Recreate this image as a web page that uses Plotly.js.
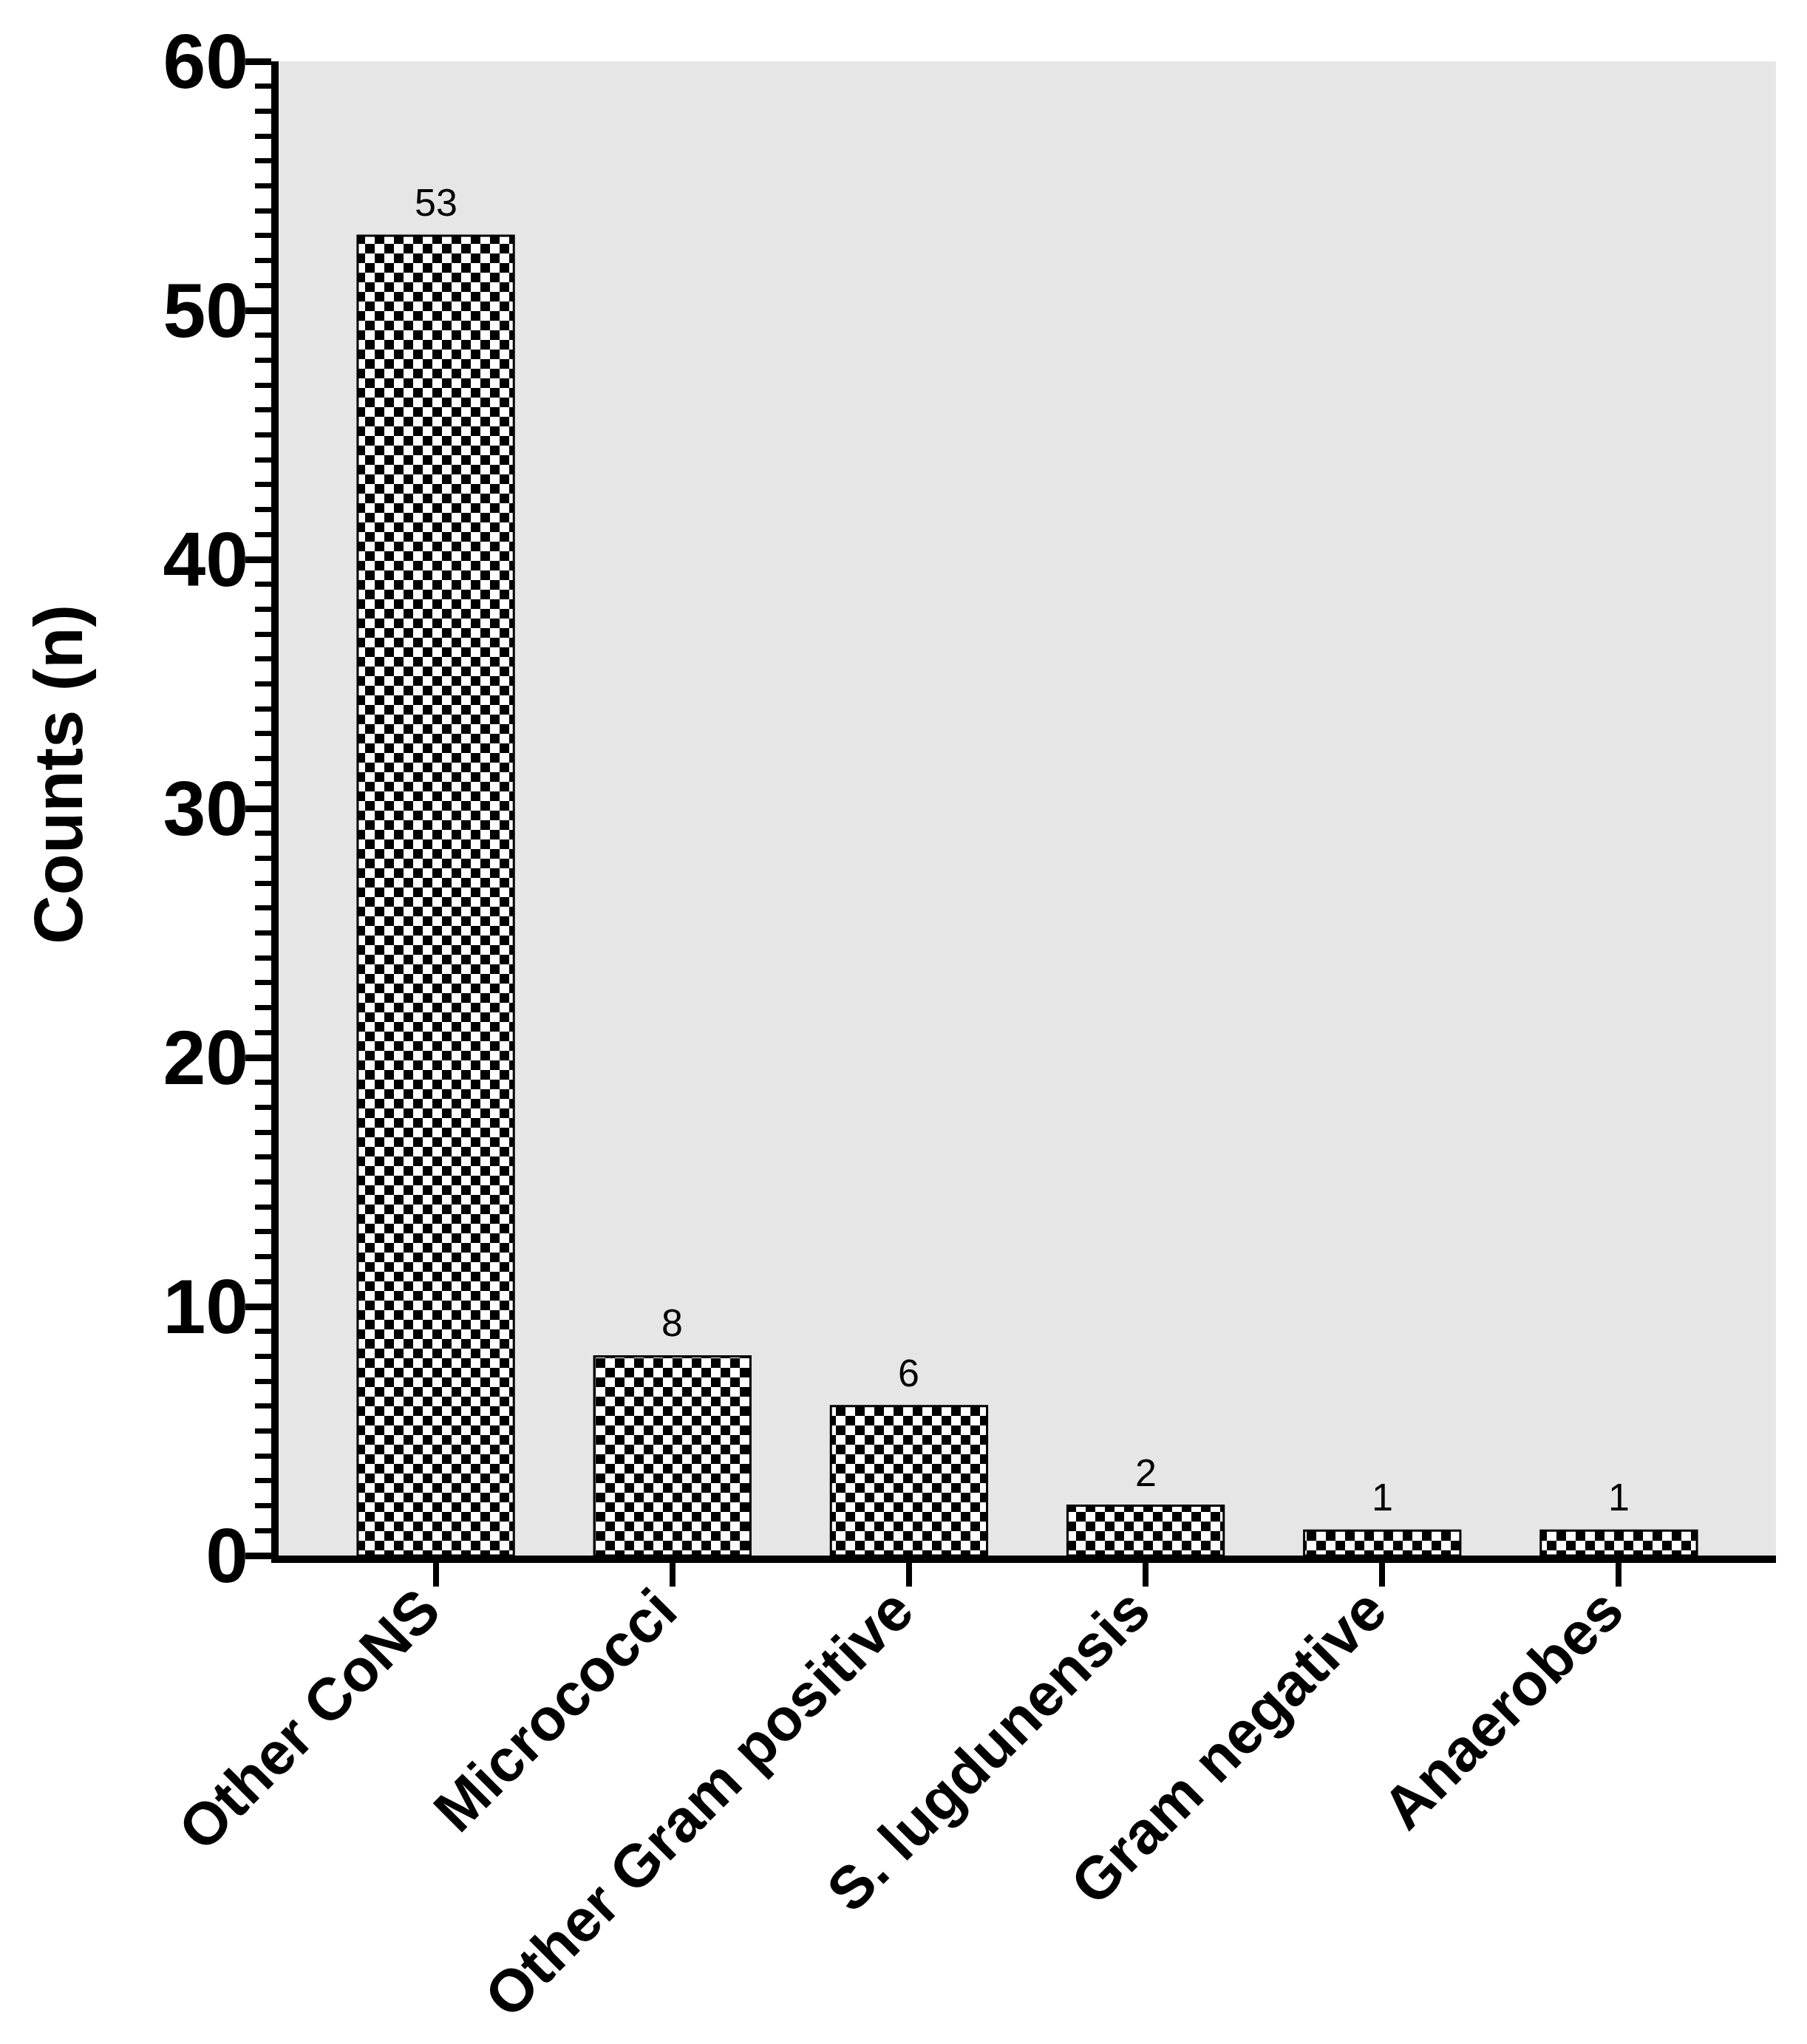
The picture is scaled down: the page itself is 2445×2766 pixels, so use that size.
<!DOCTYPE html>
<html>
<head>
<meta charset="utf-8">
<script src="https://cdn.plot.ly/plotly-3.0.1.min.js"></script>
<style>
  html, body { margin: 0; padding: 0; background: #fff; }
  #myDiv { width: 2445px; height: 2766px; }
</style>
</head>
<body>
<div id="myDiv"></div>
<script>
var graphDiv = 'myDiv'

// isolate groups and their counts
var categories = ['Other CoNS', 'Micrococci', 'Other Gram positive', 'S. lugdunensis', 'Gram negative', 'Anaerobes']
var counts = [53, 8, 6, 2, 1, 1]
var yTicks = [0, 10, 20, 30, 40, 50, 60]
var yTitle = 'Counts (n)'

var bars = {
  x: categories,
  y: counts,
  type: 'bar',
  width: 0.66,
  marker: {
    color: '#ffffff',
    line: { color: '#000000', width: 3 }
  },
  hoverinfo: 'x+y'
}

// value labels sit a little above each bar
var labels = categories.map(function (c, i) {
  return {
    x: c,
    y: counts[i],
    text: String(counts[i]),
    showarrow: false,
    yanchor: 'bottom',
    yshift: 14,
    font: { family: 'Liberation Sans, Arial, sans-serif', size: 52, color: '#000' }
  }
})

// y title as annotation so it can sit a bit above centre, like the original
labels.push({
  xref: 'paper',
  yref: 'paper',
  x: -0.147,
  y: 0.523,
  xanchor: 'center',
  yanchor: 'middle',
  textangle: -90,
  text: yTitle,
  showarrow: false,
  font: { family: 'Liberation Sans, Arial, sans-serif', size: 92, color: '#000', weight: 'bold' }
})

var layout = {
  width: 2445,
  height: 2766,
  margin: { l: 377, r: 42, t: 83, b: 661 },
  paper_bgcolor: '#ffffff',
  plot_bgcolor: '#e6e6e6',
  showlegend: false,
  font: { family: 'Liberation Sans, Arial, sans-serif', color: '#000' },
  bargap: 0,
  xaxis: {
    type: 'category',
    range: [-0.664, 5.664],
    showline: true,
    linecolor: '#000',
    linewidth: 10,
    ticks: 'outside',
    ticklen: 32,
    tickwidth: 8,
    tickcolor: '#000',
    tickangle: -45,
    ticklabelstandoff: -48,
    ticklabelshift: -18,
    tickfont: { family: 'Liberation Sans, Arial, sans-serif', size: 81, color: '#000', weight: 'bold' },
    showgrid: false,
    zeroline: false,
    fixedrange: true
  },
  yaxis: {
    range: [0, 60],
    tickvals: yTicks,
    ticktext: yTicks.map(String),
    showline: true,
    linecolor: '#000',
    linewidth: 10,
    ticks: 'outside',
    ticklen: 35,
    tickwidth: 9,
    tickcolor: '#000',
    ticklabelstandoff: -25,
    minor: { dtick: 1, ticks: 'outside', ticklen: 22, tickwidth: 7, tickcolor: '#000', showgrid: false },
    tickfont: { family: 'Liberation Sans, Arial, sans-serif', size: 104, color: '#000', weight: 'bold' },
    showgrid: false,
    zeroline: false,
    fixedrange: true
  },
  annotations: labels
}

// checkerboard fill for the bars (plotly has no checker pattern shape)
function checkerFill() {
  var svg = document.querySelector('#' + graphDiv + ' .main-svg')
  var ns = 'http://www.w3.org/2000/svg'
  var defs = svg.querySelector('defs')
  var pat = document.createElementNS(ns, 'pattern')
  pat.setAttribute('id', 'checker')
  pat.setAttribute('patternUnits', 'userSpaceOnUse')
  pat.setAttribute('width', 26)
  pat.setAttribute('height', 26)
  var cells = [[0, 0, 26, 26, '#ffffff'], [0, 0, 13, 13, '#000000'], [13, 13, 13, 13, '#000000']]
  cells.forEach(function (c) {
    var r = document.createElementNS(ns, 'rect')
    r.setAttribute('x', c[0])
    r.setAttribute('y', c[1])
    r.setAttribute('width', c[2])
    r.setAttribute('height', c[3])
    r.setAttribute('fill', c[4])
    pat.appendChild(r)
  })
  defs.appendChild(pat)
  document.querySelectorAll('#' + graphDiv + ' .bars .point path').forEach(function (p) {
    p.style.fill = 'url(#checker)'
  })
}

Plotly.newPlot(graphDiv, [bars], layout, { staticPlot: true }).then(checkerFill)
</script>
</body>
</html>
